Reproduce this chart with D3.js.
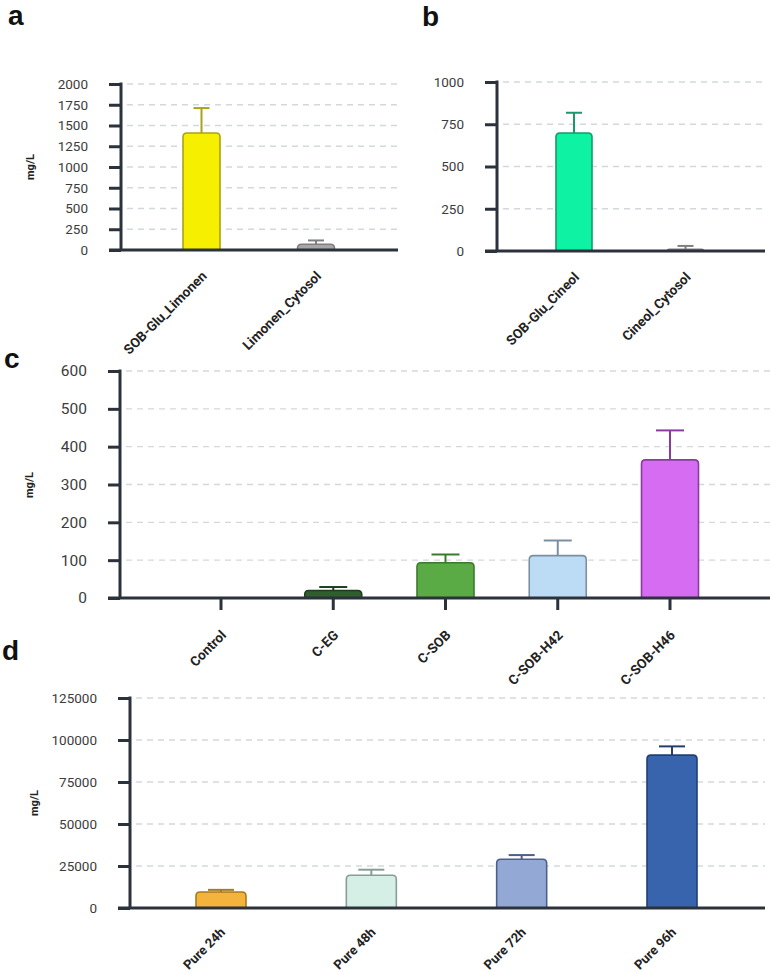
<!DOCTYPE html>
<html>
<head>
<meta charset="utf-8">
<script src="https://cdn.jsdelivr.net/npm/d3@7"></script>
<style>
  body { margin: 0; background: #fff; }
  text { font-family: Roboto, "Noto Sans", sans-serif; }
</style>
</head>
<body>
<svg id="fig" width="772" height="975"></svg>
<script>
// panel a
var limonenCats = ["SOB-Glu_Limonen", "Limonen_Cytosol"];
var limonenVals = [1410, 70];
var limonenErr = [300, 45];
var limonenTicks = [0, 250, 500, 750, 1000, 1250, 1500, 1750, 2000];

// panel b
var cineolCats = ["SOB-Glu_Cineol", "Cineol_Cytosol"];
var cineolVals = [698, 10];
var cineolErr = [120, 20];
var cineolTicks = [0, 250, 500, 750, 1000];

// panel c
var strainCats = ["Control", "C-EG", "C-SOB", "C-SOB-H42", "C-SOB-H46"];
var strainVals = [0, 20, 93, 112, 365];
var strainErr = [0, 9, 22, 40, 78];
var strainTicks = [0, 100, 200, 300, 400, 500, 600];

// panel d
var timeCats = ["Pure 24h", "Pure 48h", "Pure 72h", "Pure 96h"];
var timeVals = [9500, 19500, 29000, 91000];
var timeErr = [1300, 3300, 2500, 5200];
var timeTicks = [0, 25000, 50000, 75000, 100000, 125000];

var svg = d3.select("#fig");
var axisColor = "#2b323c";

function drawPanel(p) {
    var g = svg.append("g");

    var y = d3.scaleLinear().domain([p.ticks[0], p.ticks[p.ticks.length - 1]]).range([p.zeroY, p.topY]);
    var x = d3.scalePoint().domain(p.cats).range([p.xStart, p.xEnd]);

    // dashed grid
    g.append("g")
        .selectAll("line")
        .data(p.ticks.slice(1))
        .enter().append("line")
        .attr("x1", p.axisX + 6)
        .attr("x2", p.rightX)
        .attr("y1", function (d) { return y(d); })
        .attr("y2", function (d) { return y(d); })
        .attr("stroke", "#d3d7de")
        .attr("stroke-width", 1.4)
        .attr("stroke-dasharray", "6,5");

    // bars with rounded tops
    var bw = p.barW, r = 4;
    g.append("g")
        .selectAll("path")
        .data(p.vals.map(function (v, i) { return { cat: p.cats[i], v: v, i: i }; }).filter(function (d) { return d.v > 0; }))
        .enter().append("path")
        .attr("d", function (d) {
            var x0 = x(d.cat) - bw / 2, x1 = x(d.cat) + bw / 2, y0 = p.zeroY, y1 = y(d.v);
            var rr = Math.min(r, (y0 - y1));
            return "M" + x0 + "," + y0 + "V" + (y1 + rr) + "Q" + x0 + "," + y1 + " " + (x0 + rr) + "," + y1 +
                "H" + (x1 - rr) + "Q" + x1 + "," + y1 + " " + x1 + "," + (y1 + rr) + "V" + y0;
        })
        .attr("fill", function (d) { return p.fills[d.i]; })
        .attr("stroke", function (d) { return p.strokes[d.i]; })
        .attr("stroke-width", 1.6);

    // error bars
    var eb = g.append("g")
        .selectAll("g")
        .data(p.vals.map(function (v, i) { return { cat: p.cats[i], v: v, e: p.err[i], i: i }; }).filter(function (d) { return d.e > 0; }))
        .enter().append("g")
        .attr("stroke", function (d) { return p.strokes[d.i]; })
        .attr("stroke-width", 2);
    eb.append("line")
        .attr("x1", function (d) { return x(d.cat); })
        .attr("x2", function (d) { return x(d.cat); })
        .attr("y1", function (d) { return y(d.v); })
        .attr("y2", function (d) { return y(d.v + d.e); });
    eb.append("line")
        .attr("x1", function (d) { return x(d.cat) - p.capW / 2; })
        .attr("x2", function (d) { return x(d.cat) + p.capW / 2; })
        .attr("y1", function (d) { return y(d.v + d.e); })
        .attr("y2", function (d) { return y(d.v + d.e); });

    // y axis
    var ya = g.append("g")
        .attr("transform", "translate(" + p.axisX + ",0)")
        .call(d3.axisLeft(y).tickValues(p.ticks).tickSize(12).tickPadding(21).tickFormat(d3.format("d")));
    ya.select(".domain").remove();
    ya.selectAll(".tick line").attr("stroke", axisColor).attr("stroke-width", 3);
    ya.selectAll(".tick text")
        .attr("fill", "#3c3c3c")
        .style("font-family", "Roboto, sans-serif")
        .style("font-size", p.tickFont + "px");
    g.append("line")
        .attr("x1", p.axisX).attr("x2", p.axisX)
        .attr("y1", p.topY - 1.5).attr("y2", p.zeroY)
        .attr("stroke", axisColor).attr("stroke-width", 3);

    // x axis
    g.append("line")
        .attr("x1", p.axisX - 12).attr("x2", p.rightX)
        .attr("y1", p.zeroY).attr("y2", p.zeroY)
        .attr("stroke", axisColor).attr("stroke-width", 3);

    if (p.catTicks) {
        g.append("g")
            .selectAll("line")
            .data(p.cats)
            .enter().append("line")
            .attr("x1", function (d) { return x(d); })
            .attr("x2", function (d) { return x(d); })
            .attr("y1", p.zeroY)
            .attr("y2", p.zeroY + 12)
            .attr("stroke", axisColor)
            .attr("stroke-width", 3);
    }

    g.append("g")
        .selectAll("text")
        .data(p.cats)
        .enter().append("text")
        .attr("transform", function (d) { return "translate(" + (x(d) + p.labDx) + "," + (p.zeroY + p.labDy) + ")rotate(-45)"; })
        .attr("text-anchor", "end")
        .attr("font-size", p.labFont)
        .attr("font-weight", "bold")
        .attr("fill", "#222")
        .text(function (d) { return d; });

    if (p.unitX) {
        g.append("text")
            .attr("transform", "translate(" + p.unitX + "," + p.unitY + ")rotate(-90)")
            .attr("text-anchor", "middle")
            .attr("font-size", 11)
            .attr("font-weight", "bold")
            .attr("fill", "#222")
            .text("mg/L");
    }

    svg.append("text")
        .attr("x", p.letterX)
        .attr("y", p.letterY)
        .style("font-family", "'Liberation Sans', Arial, sans-serif")
        .attr("font-size", 28)
        .attr("font-weight", "bold")
        .attr("fill", "#111")
        .text(p.letter);
}

drawPanel({
    letter: "a", letterX: 8, letterY: 25,
    cats: limonenCats, vals: limonenVals, err: limonenErr, ticks: limonenTicks,
    fills: ["#f6f000", "#a7a7a7"], strokes: ["#a9a31c", "#7f7f7f"],
    axisX: 121, rightX: 398, topY: 84, zeroY: 250,
    xStart: 201.5, xEnd: 316, barW: 37, capW: 16, tickFont: 13.5,
    labDx: 6, labDy: 27, labFont: 13.5, unitX: 34, unitY: 167
});

drawPanel({
    letter: "b", letterX: 422, letterY: 26,
    cats: cineolCats, vals: cineolVals, err: cineolErr, ticks: cineolTicks,
    fills: ["#0ef3a3", "#a7a7a7"], strokes: ["#17996a", "#7f7f7f"],
    axisX: 497, rightX: 765, topY: 82, zeroY: 251,
    xStart: 574, xEnd: 685.5, barW: 36, capW: 16, tickFont: 13.5,
    labDx: 6, labDy: 27, labFont: 13.5
});

drawPanel({
    letter: "c", letterX: 4, letterY: 368,
    cats: strainCats, vals: strainVals, err: strainErr, ticks: strainTicks,
    fills: ["#999", "#2f5e2f", "#5aab46", "#bcdcf5", "#d66cf2"],
    strokes: ["#666", "#1e3d1e", "#3b7a2c", "#7b8fa3", "#8a3c9e"],
    axisX: 120, rightX: 770, topY: 371, zeroY: 598,
    xStart: 221, xEnd: 670, barW: 57, capW: 28, tickFont: 15.5, catTicks: true,
    labDx: 6, labDy: 38, labFont: 13.5, unitX: 33, unitY: 485
});

drawPanel({
    letter: "d", letterX: 2, letterY: 660,
    cats: timeCats, vals: timeVals, err: timeErr, ticks: timeTicks,
    fills: ["#f3b33d", "#d5efe6", "#94a8d5", "#3864ad"],
    strokes: ["#a87a1e", "#869e94", "#4d5f8a", "#213f73"],
    axisX: 130, rightX: 765, topY: 698, zeroY: 908,
    xStart: 221, xEnd: 672, barW: 50, capW: 26, tickFont: 13.5,
    labDx: 5, labDy: 25, labFont: 13, unitX: 38, unitY: 803
});
</script>
</body>
</html>
